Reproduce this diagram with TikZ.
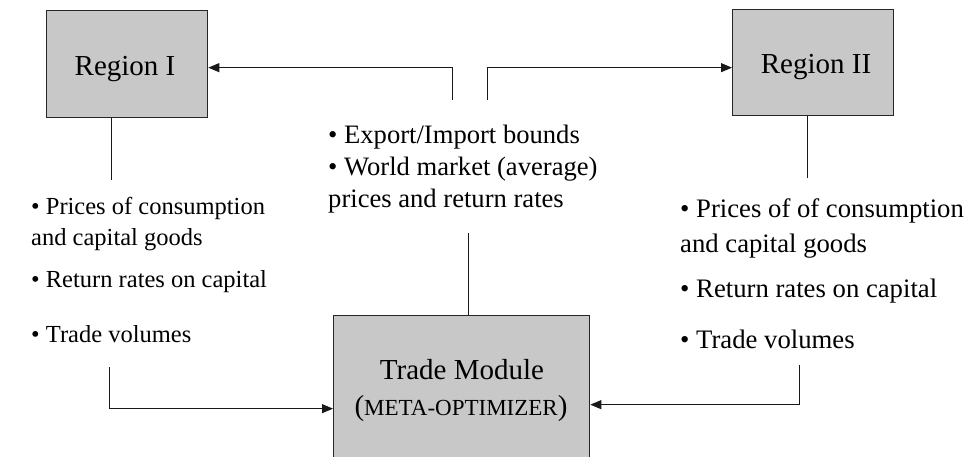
\documentclass[tikz,border=0pt]{standalone}
\usepackage{fontspec}
\setmainfont{Liberation Serif}
\usetikzlibrary{arrows.meta}
\definecolor{boxfill}{RGB}{200,200,200}
\begin{document}
\begin{tikzpicture}[x=1pt,y=-1pt,
  box/.style={draw=black!85, line width=1.3pt, fill=boxfill, inner sep=0pt, anchor=north west},
  conn/.style={line width=1pt, draw=black!90},
  arr/.style={conn, -{Triangle[length=11pt,width=9pt]}},
  lbl/.style={inner sep=0pt, anchor=base, font=\fontsize{29}{34}\selectfont},
  ltxt/.style={inner sep=0pt, anchor=base west, font=\fontsize{24.5}{29}\selectfont},
  mtxt/.style={inner sep=0pt, anchor=base west, font=\fontsize{26.6}{31}\selectfont},
  rtxt/.style={inner sep=0pt, anchor=base west, font=\fontsize{26.7}{31}\selectfont}]
\useasboundingbox (0,0) rectangle (970,456);
\fill[white] (0,0) rectangle (970,456);
\clip (0,0) rectangle (970,456);
% boxes
\node[box, minimum width=161pt, minimum height=107pt] (r1) at (46,10) {};
\node[box, minimum width=161pt, minimum height=106pt] (r2) at (732,9) {};
\node[box, minimum width=256pt, minimum height=182pt] (tm) at (333,315) {};
% box labels
\node[lbl] (r1l) at (125,75) {Region I};
\node[lbl] (r2l) at (816,73) {Region II};
\node[lbl] (tml) at (462,379) {Trade Module};
\node[lbl] (tmo) at (461,415) {(\fontsize{23}{27}\selectfont META-OPTIMIZER\fontsize{29}{34}\selectfont)};
% left text
\node[ltxt] (l1) at (31,214) {• Prices of consumption};
\node[ltxt] (l2) at (31,245) {and capital goods};
\node[ltxt] (l3) at (31,287) {• Return rates on capital};
\node[ltxt] (l4) at (31,342) {• Trade volumes};
% middle text
\node[mtxt] (m1) at (328,143) {• Export/Import bounds};
\node[mtxt] (m2) at (328,175) {• World market (average)};
\node[mtxt] (m3) at (328,207) {prices and return rates};
% right text
\node[rtxt] (q1) at (680,217) {• Prices of of consumption};
\node[rtxt] (q2) at (680,252) {and capital goods};
\node[rtxt] (q3) at (680,297) {• Return rates on capital};
\node[rtxt] (q4) at (680,348) {• Trade volumes};
% connector ends
\coordinate (a1) at (452,100);
\coordinate (a2) at (487,100);
\coordinate (b1) at (111,180);
\coordinate (b2) at (807,178);
\coordinate (c) at (468,233);
\coordinate (d1) at (109,367);
\coordinate (d2) at (799,365);
% connectors
\draw[arr] (a1) |- ([yshift=-3.5pt]r1.east);
\draw[arr] (a2) |- ([yshift=-5pt]r2.west);
\draw[conn] (r1.south -| b1) -- (b1);
\draw[conn] (r2.south -| b2) -- (b2);
\draw[conn] (c) -- (c |- tm.north);
\draw[arr] (d1) |- ([yshift=-2pt]tm.west);
\draw[arr] (d2) |- ([yshift=2pt]tm.east);
\end{tikzpicture}
\end{document}
